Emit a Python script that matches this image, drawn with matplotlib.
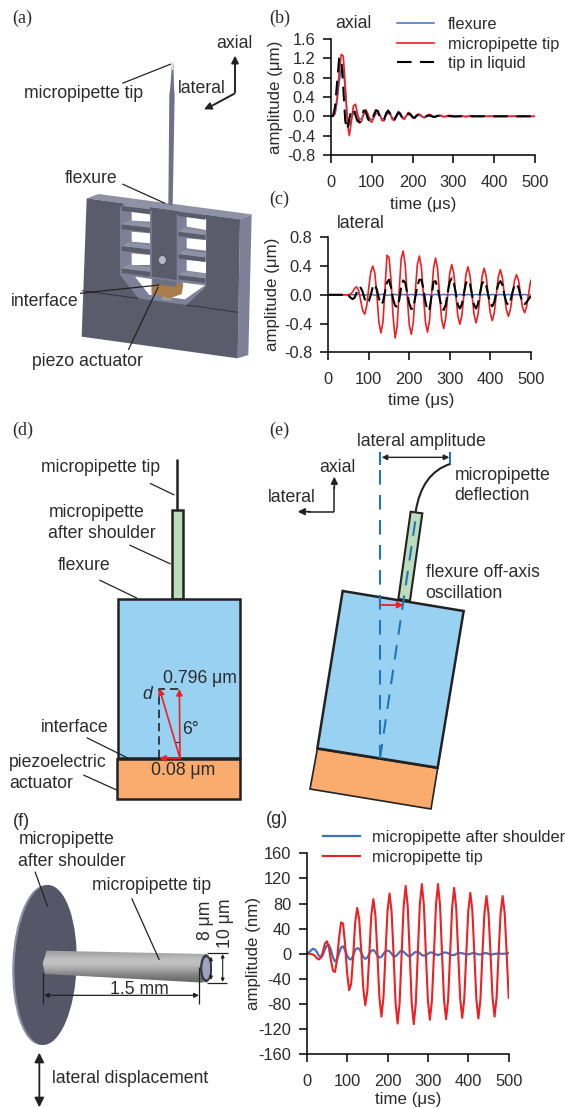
import numpy as np
import matplotlib
matplotlib.use('Agg')
import matplotlib.pyplot as plt
from matplotlib.patches import Polygon, Ellipse, FancyArrowPatch, PathPatch
from matplotlib.path import Path

plt.rcParams['font.family'] = ['Liberation Sans', 'DejaVu Sans']

W, H = 565, 1108
TXT = '#2b2b2b'
BLUE = '#3f72b8'
RED = '#ed2024'

# ---- chart data
time_b = np.arange(0, 505, 5)
flexure_b = [0, 0, .05, .3, .7, .98, .98, .55, -.02, -.18, -.06, .08, .1, .03, -.06, -.05, .03,
             .08, .04, -.04, -.07, -.02, .05, .07, .02, -.05, -.05, .02, .06, .04, -.03, -.05, 0,
             .05, .03, -.02, -.03, .01, .04, .02, -.01, -.02, .01, .02, .01, -.01, -.01, 0, .01,
             .01, 0, -.01, 0, .01, 0, 0] + [0] * 45
tip_b = [0, 0, .08, .4, .9, 1.28, 1.25, .65, -.15, -.4, -.1, .22, .25, .05, -.14, -.1, .07,
         .14, .06, -.09, -.12, -.02, .1, .12, .02, -.09, -.09, .04, .12, .07, -.06, -.09, 0,
         .1, .06, -.04, -.06, .02, .08, .05, -.03, -.04, .01, .05, .03, -.02, -.03, .01, .04,
         .03, -.01, -.02, .01, .02, .02, -.01, -.01, .01, .02, .01, 0, -.01, 0, .01, .01, 0,
         -.01, 0, .01, .01, 0, 0, .01, 0, 0, .01, 0, 0, .01, 0, 0, 0, .01, 0, 0, 0, .01, 0,
         0, 0, .01, 0, 0, 0, 0, .01, 0, 0, 0, 0, 0]
liquid_b = [0, .01, .2, .7, 1.2, 1.22, .6, -.1, -.28, -.05, .14, .16, .02, -.1, -.12, 0, .12,
            .1, -.04, -.12, -.1, .03, .13, .1, -.03, -.1, -.07, .06, .12, .05, -.07, -.08, .01,
            .08, .05, -.04, -.05, .02, .06, .04, -.02, -.03, .02, .04, .02, -.02, -.02, .01,
            .02, .01, -.01, -.01, .01, .01, .01, 0, -.01, 0, .01, 0] + [0] * 41

time_c = np.arange(0, 505, 5)
flexure_c = [0, 0, 0, 0, 0, 0, 0, 0, 0, 0, 0, 0, 0, 0, .005, .005, 0, -.005, -.005, 0, .005, .005,
             0, -.005, -.005, 0, .005, .005, 0, -.005, -.005, 0, .005, .005, 0, -.005, 0, .005, 0,
             -.005, 0, .005, 0, -.005, 0, .005, 0, -.005, 0, .005, 0, -.005, 0, .005, 0, -.005, 0,
             .005, 0, -.005, 0, .005, 0, -.005, 0, .005, 0, -.005, 0, .005, 0, -.005, 0, .005, 0,
             -.005, 0, .005, 0, -.005, 0, .005, 0, -.005, 0, .005, 0, -.005, 0, .005, 0, -.005, 0,
             .005, 0, -.005, 0, .005, 0, -.005, 0]
tip_c = [0, 0, 0, 0, 0, 0, 0, 0, 0, 0, 0, .01, .04, .09, .11, .06, -.08, -.22, -.27, -.15, .1,
         .32, .4, .3, 0, -.38, -.53, -.38, .08, .55, .52, .2, -.3, -.6, -.45, .05, .5, .61, .42,
         -.02, -.42, -.55, -.38, .05, .42, .54, .38, 0, -.38, -.52, -.36, 0, .37, .51, .36, 0,
         -.34, -.47, -.33, 0, .3, .42, .3, 0, -.29, -.41, -.29, 0, .28, .39, .27, 0, -.27, -.39,
         -.27, 0, .26, .37, .26, 0, -.25, -.36, -.25, 0, .25, .35, .24, 0, -.21, -.3, -.2, 0,
         .2, .28, .2, 0, -.18, -.25, -.16, .02, .2]
liquid_c = [0, 0, 0, 0, 0, 0, 0, 0, 0, 0, -.01, -.04, -.06, -.04, .03, .09, .1, .04, -.06, -.11,
            -.09, 0, .11, .14, .07, -.05, -.13, -.1, .04, .17, .21, .1, -.06, -.15, -.17, -.08,
            .1, .2, .17, .02, -.12, -.2, -.18, -.03, .12, .21, .21, .08, -.1, -.22, -.2, -.02,
            .18, .19, .1, -.05, -.17, -.21, -.14, .03, .18, .23, .17, .02, -.14, -.19, -.13, .02,
            .16, .2, .15, 0, -.14, -.19, -.12, .03, .16, .19, .13, 0, -.12, -.16, -.1, .03, .15,
            .19, .14, 0, -.11, -.14, -.08, .04, .13, .15, .1, -.02, -.1, -.13, -.1, -.06, -.02]

time_g = np.arange(0, 505, 5)
shoulder_g = [0, 2, 5, 8, 7, 3, -3, -6, -2, 7, 13, 14, 6, -6, -12, -9, 1, 10, 12, 6, -3, -8, -9, -3,
              6, 9, 8, 2, -5, -8, -6, 0, 5, 6, 3, -3, -6, -5, 0, 4, 5, 4, 0, -4, -4, -1, 3, 5, 3, 0,
              -3, -4, -2, 1, 3, 3, 1, -2, -3, -2, 0, 2, 2, 1, -1, -2, -1, 1, 2, 2, 1, -1, -2, -2, 0,
              1, 1, 1, 0, -1, -1, 0, 1, 1, 0, -1, -1, 0, 1, 1, 0, -1, -1, 0, 0, 1, 0, 0, 0, 1, 1]
tip_g = [0, 0, 0, -1, -3, -7, -9, -6, 3, 16, 20, 10, -10, -27, -29, -10, 25, 50, 48, 15, -30, -58, -48,
         -5, 50, 73, 55, 5, -55, -82, -60, 0, 62, 87, 62, 0, -70, -100, -70, 0, 68, 96, 68, 0, -78, -111,
         -78, 0, 76, 108, 76, 0, -79, -112, -79, 0, 78, 111, 78, 0, -74, -105, -74, 0, 78, 111, 78, 0, -74,
         -104, -74, 0, 74, 105, 74, 0, -72, -102, -72, 0, 69, 97, 69, 0, -73, -103, -73, 0, 65, 92, 65, 0,
         -70, -100, -70, 0, 65, 92, 65, 0, -70]

fig = plt.figure(figsize=(W / 100, H / 100), dpi=100)

# overlay in pixel coordinates for the drawings
ax = fig.add_axes([0, 0, 1, 1])
ax.set_xlim(0, W)
ax.set_ylim(H, 0)
ax.axis('off')


def to_a(pts):
    return [(x / 3, y / 3) for x, y in pts]


def to_r(pts):
    return [(70 + x / 3, 180 + y / 3) for x, y in pts]


def to_d(pts):
    return [(x / 3, 415 + y / 3) for x, y in pts]


def to_e(pts):
    return [(265 + x / 3, 415 + y / 3) for x, y in pts]


def to_f(pts):
    return [(x / 3, 810 + y / 3) for x, y in pts]


def poly(pts, fc, ec='none', lw=0, z=2):
    p = Polygon(pts, closed=True, fc=fc, ec=ec, lw=lw, zorder=z, joinstyle='miter')
    ax.add_patch(p)
    return p


def line(pts, color='#222222', lw=0.9, ls='-', z=5):
    xs, ys = zip(*pts)
    ax.plot(xs, ys, color=color, lw=lw, ls=ls, zorder=z, solid_capstyle='butt')


def arrow(p0, p1, color='#222222', lw=1.2, style='-|>', size=9, z=6):
    ax.add_patch(FancyArrowPatch(p0, p1, arrowstyle=style, mutation_scale=size, color=color, lw=lw,
                                 shrinkA=0, shrinkB=0, zorder=z))


def label(pt, s, size=12.7, **kw):
    ax.text(pt[0], pt[1], s, fontsize=size, color=TXT, va='center', ha=kw.pop('ha', 'left'), zorder=8, **kw)


def panel(pt, s):
    ax.text(pt[0], pt[1], s, fontsize=13, color=TXT, va='center', family='Liberation Serif', zorder=8)


# ---- (a) flexure rendering
DARK = '#5a5b6b'
MID = '#7e8097'
LIGHT = '#8f91a5'
panel(to_a([(38, 55)])[0], '(a)')
poly(to_r([(510, 118), (545, 103), (535, 525), (503, 535)]), MID)
poly(to_r([(50, 55), (85, 42), (545, 103), (510, 118)]), LIGHT)
poly(to_r([(50, 55), (510, 118), (503, 535), (35, 470)]), DARK)
# opening with inner walls, then windows, beams and centre column
poly(to_r([(150, 80), (410, 115), (408, 320), (350, 375), (205, 355), (150, 285)]), MID, z=2.1)
for pts in ([(185, 90), (240, 95), (240, 125), (185, 122)], [(185, 155), (240, 160), (240, 190), (185, 185)],
            [(185, 220), (240, 225), (240, 255), (185, 255)], [(350, 110), (408, 118), (408, 150), (350, 140)],
            [(350, 175), (408, 180), (408, 212), (350, 205)], [(350, 240), (408, 245), (408, 280), (350, 272)],
            [(195, 290), (245, 297), (245, 345), (238, 345)], [(340, 308), (405, 316), (345, 358), (300, 352)]):
    poly(to_r(pts), 'white', z=2.2)
poly(to_r([(245, 85), (320, 95), (320, 300), (245, 290)]), DARK, z=3)
for yb in (78, 133, 198, 265):
    poly(to_r([(155, yb), (240, yb + 10), (240, yb + 25), (155, yb + 14)]), DARK, z=2.5)
    poly(to_r([(155, yb), (175, yb - 12), (240, yb - 3), (240, yb + 10)]), LIGHT, z=2.5)
for yb in (95, 155, 222, 285):
    poly(to_r([(325, yb), (405, yb + 10), (405, yb + 24), (325, yb + 13)]), DARK, z=2.5)
    poly(to_r([(325, yb), (345, yb - 12), (408, yb - 3), (405, yb + 10)]), LIGHT, z=2.5)
ax.add_patch(Ellipse(to_r([(277, 240)])[0], 8, 9, fc='#b5b7c4', ec='#3a3a44', lw=0.4, zorder=3.2))
poly(to_r([(248, 295), (320, 305), (318, 320), (248, 312)]), '#6d7080', z=3.3)
poly(to_r([(245, 320), (265, 310), (340, 312), (335, 342), (300, 355), (245, 340)]), '#a87d4a', z=3.2)
poly(to_r([(275, 350), (305, 352), (305, 362), (275, 360)]), '#9a9a9a', z=3.1)
poly(to_a([(516, 190), (520, 190), (522, 260), (524, 285), (518, 617), (505, 615), (508, 285), (511, 260)]), '#6d7189', z=3.5)
poly(to_a([(515, 185), (520, 185), (520, 210), (515, 210)]), '#dfe0e6', z=3.6)
line(to_r([(35, 332), (205, 355)]), color='#33343c', lw=0.7, z=2.3)
line(to_r([(350, 375), (505, 397)]), color='#33343c', lw=0.7, z=2.3)
line(to_a([(367, 250), (513, 192)]))
line(to_a([(367, 552), (495, 610)]))
line(to_a([(240, 880), (478, 855)]))
line(to_a([(385, 1050), (475, 860)]))
line(to_a([(705, 280), (705, 190)]), lw=1.4)
arrow(to_a([(705, 200)])[0], to_a([(705, 167)])[0], size=11)
line(to_a([(705, 280), (640, 315)]), lw=1.4)
arrow(to_a([(640, 315)])[0], to_a([(612, 328)])[0], size=11)
label(to_a([(650, 131)])[0], 'axial')
label(to_a([(533, 265)])[0], 'lateral')
label(to_a([(73, 281)])[0], 'micropipette tip')
label(to_a([(195, 535)])[0], 'flexure')
label(to_a([(33, 905)])[0], 'interface')
label(to_a([(95, 1085)])[0], 'piezo actuator')

# ---- (d) side view
panel(to_d([(38, 45)])[0], '(d)')
EDGE = '#222222'
line(to_d([(531, 133), (531, 285)]), lw=1.8)
poly(to_d([(515, 285), (548, 285), (548, 551), (515, 551)]), '#bcdcbc', EDGE, 1.8)
poly(to_d([(354, 552), (720, 552), (720, 1030), (354, 1030)]), '#99d1f3', EDGE, 1.8)
poly(to_d([(352, 1032), (720, 1032), (720, 1152), (352, 1152)]), '#f9ac6e', EDGE, 1.8)
for seg in ([(450, 205), (523, 240)], [(388, 390), (512, 447)], [(298, 495), (412, 550)],
            [(260, 968), (385, 1030)], [(250, 1080), (350, 1125)]):
    line(to_d(seg))
line(to_d([(478, 1030), (478, 822), (538, 822)]), lw=1.2, ls=(0, (5, 3)))
line(to_d([(525, 982), (540, 982)]), lw=0.8)
o = to_d([(540, 1030)])[0]
arrow(o, to_d([(478, 820)])[0], color=RED)
arrow(o, to_d([(538, 822)])[0], color=RED)
arrow(o, to_d([(478, 1030)])[0], color=RED)
label(to_d([(122, 156)])[0], 'micropipette tip')
label(to_d([(145, 293)])[0], 'micropipette')
label(to_d([(145, 356)])[0], 'after shoulder')
label(to_d([(172, 453)])[0], 'flexure')
label(to_d([(490, 790)])[0], '0.796 μm')
label(to_d([(428, 838)])[0], 'd', style='italic')
label(to_d([(545, 942)])[0], '6°')
label(to_d([(122, 937)])[0], 'interface')
label(to_d([(28, 1043)])[0], 'piezoelectric')
label(to_d([(28, 1107)])[0], 'actuator')
label(to_d([(452, 1067)])[0], '0.08 μm')

# ---- (e) tilted view
panel(to_e([(12, 45)])[0], '(e)')
poly(to_e([(437, 290), (472, 295), (435, 557), (400, 552)]), '#bcdcbc', EDGE, 1.5)
poly(to_e([(233, 528), (596, 588), (518, 1058), (157, 1000)]), '#99d1f3', EDGE, 1.8)
poly(to_e([(157, 1002), (518, 1060), (498, 1182), (135, 1122)]), '#f9ac6e', EDGE, 1.2, z=1.9)
DASH = '#1f77b8'
line(to_e([(345, 112), (345, 150)]), color=DASH, lw=1.5)
line(to_e([(345, 165), (345, 1030)]), color=DASH, lw=1.5, ls=(0, (7, 5)))
line(to_e([(555, 110), (555, 150)]), color=DASH, lw=1.5)
bend = to_e([(345, 1030), (415, 560), (455, 290)])
ax.add_patch(PathPatch(Path(bend, [Path.MOVETO, Path.CURVE3, Path.CURVE3]), fc='none', ec=DASH, lw=1.5,
                       ls=(0, (7, 5)), zorder=5))
tipc = to_e([(452, 290), (470, 175), (555, 147)])
ax.add_patch(PathPatch(Path(tipc, [Path.MOVETO, Path.CURVE3, Path.CURVE3]), fc='none', ec=EDGE, lw=1.5, zorder=5))
p0, p1 = to_e([(350, 127), (553, 127)])
arrow(p0, p1, style='<|-|>', lw=1.0, size=8)
p0, p1 = to_e([(345, 570), (416, 570)])
arrow(p0, p1, color=RED, lw=1.3)
line(to_e([(208, 290), (208, 215)]), lw=1.1)
arrow(to_e([(208, 220)])[0], to_e([(208, 185)])[0], size=10)
line(to_e([(208, 290), (130, 290)]), lw=1.1)
arrow(to_e([(135, 290)])[0], to_e([(98, 290)])[0], size=10)
label(to_e([(275, 79)])[0], 'lateral amplitude')
label(to_e([(568, 181)])[0], 'micropipette')
label(to_e([(568, 243)])[0], 'deflection')
label(to_e([(163, 156)])[0], 'axial')
label(to_e([(8, 247)])[0], 'lateral')
label(to_e([(482, 472)])[0], 'flexure off-axis')
label(to_e([(482, 537)])[0], 'oscillation')

# ---- (f) micropipette rendering
label(to_f([(38, 35)])[0], '(f)', size=13)
ax.add_patch(Ellipse(to_f([(130, 465)])[0], 62, 160, angle=2, fc='#8b8ea3', ec='none', zorder=2))
ax.add_patch(Ellipse(to_f([(137, 465)])[0], 62, 160, angle=2, fc='#555668', ec='none', zorder=2.1))
tube = Polygon(to_f([(140, 422), (620, 432), (610, 518), (135, 492), (128, 460)]), closed=True, fc='none', ec='none')
ax.add_patch(tube)
grad = np.array([.62, .66, .72, .76, .74, .68, .6, .52, .46, .42]).reshape(-1, 1)
im = ax.imshow(grad, extent=(0, W, 810 + 520 / 3, 810 + 420 / 3), cmap='gray', vmin=0, vmax=1, aspect='auto',
               zorder=3, interpolation='bilinear')
im.set_clip_path(tube)
ax.set_xlim(0, W)
ax.set_ylim(H, 0)
ax.add_patch(Ellipse(to_f([(618, 475)])[0], 12, 28, fc='#3c3c48', ec='none', zorder=3.2))
ax.add_patch(Ellipse(to_f([(619, 475)])[0], 8, 22, fc='#9ea2c0', ec='none', zorder=3.3))
line(to_f([(620, 430), (683, 430)]))
line(to_f([(620, 518), (680, 518)]))
p0, p1 = to_f([(668, 432), (668, 516)])
arrow(p0, p1, style='<|-|>', lw=0.8, size=5)
p0, p1 = to_f([(633, 440), (633, 510)])
arrow(p0, p1, style='<|-|>', lw=0.8, size=5)
p0, p1 = to_f([(132, 556), (597, 556)])
arrow(p0, p1, style='<|-|>', lw=0.9, size=7)
line(to_f([(128, 490), (128, 582)]))
line(to_f([(597, 470), (597, 582)]))
p0, p1 = to_f([(118, 728), (118, 892)])
arrow(p0, p1, style='<|-|>', lw=1.3, size=14)
line(to_f([(105, 185), (143, 290)]))
line(to_f([(395, 265), (478, 450)]))
label(to_f([(55, 90)])[0], 'micropipette')
label(to_f([(55, 154)])[0], 'after shoulder')
label(to_f([(277, 225)])[0], 'micropipette tip')
label(to_f([(418, 537)])[0], '1.5 mm', ha='center')
label(to_f([(617, 330)])[0], '8 μm', ha='center', rotation=90)
label(to_f([(676, 340)])[0], '10 μm', ha='center', rotation=90)
label(to_f([(155, 805)])[0], 'lateral displacement')
label((266, 820), '(g)', size=13)


# ---- charts
def chart(left, right, top, bottom, xlim, ylim, yticks, yfmt, label_right, xlab_x, xlab_top):
    a = fig.add_axes([left / W, 1 - bottom / H, (right - left) / W, (bottom - top) / H])
    a.patch.set_alpha(0)
    a.set_xlim(*xlim)
    a.set_ylim(*ylim)
    a.set_xticks(np.arange(0, 600, 100))
    a.set_yticks(yticks)
    a.set_yticklabels([yfmt % v for v in yticks])
    for s in ('top', 'right'):
        a.spines[s].set_visible(False)
    for s in ('left', 'bottom'):
        a.spines[s].set_linewidth(1.1)
    a.tick_params(length=5.8, width=1.1, labelsize=11.8, labelcolor=TXT)
    a.tick_params(axis='x', pad=8.5)
    a.tick_params(axis='y', pad=5.5)
    a.set_xlabel('time (μs)', fontsize=12.2, color=TXT)
    a.xaxis.set_label_coords((xlab_x - left) / (right - left), -(xlab_top - bottom) / (bottom - top))
    a.yaxis.set_label_coords((label_right - left) / (right - left), 0.5)
    return a


ax_b = chart(331, 535, 39, 155, (0, 500), (-0.8, 1.6), [-.8, -.4, 0, .4, .8, 1.2, 1.6], '%.1f', 283, 423, 197)
ax_b.plot(time_b, flexure_b, color=BLUE, lw=1.1, label='flexure')
ax_b.plot(time_b, tip_b, color=RED, lw=1.2, label='micropipette tip')
ax_b.plot(time_b, liquid_b, color='black', lw=1.5, ls=(0, (7, 4)), label='tip in liquid')
ax_b.set_ylabel('amplitude (μm)', fontsize=12.2, color=TXT)
ax_b.legend(loc='upper left', bbox_to_anchor=(397 / W, 1 - 17 / H), bbox_transform=fig.transFigure, frameon=False,
            fontsize=11.8, handlelength=2.26, handletextpad=0.85, labelspacing=0.28, borderpad=0, borderaxespad=0,
            labelcolor=TXT)
ax.text(335, 24, 'axial', fontsize=12.7, color=TXT, va='center')
panel((269, 18), '(b)')

ax_c = chart(328.3, 530.7, 237.3, 352.3, (0, 500), (-0.8, 0.8), [-.8, -.4, 0, .4, .8], '%.1f', 280, 421, 393)
ax_c.plot(time_c, flexure_c, color=BLUE, lw=1.1)
ax_c.plot(time_c, tip_c, color=RED, lw=1.2)
ax_c.plot(time_c, liquid_c, color='black', lw=1.5, ls=(0, (7, 2.5)))
ax_c.set_ylabel('amplitude (μm)', fontsize=12.2, color=TXT)
ax.text(337, 223, 'lateral', fontsize=12.7, color=TXT, va='center')
panel((269, 199), '(c)')

ax_g = chart(306.7, 508.7, 853.3, 1054.3, (0, 500), (-160, 160), np.arange(-160, 200, 40), '%d', 261, 408, 1092)
ax_g.plot(time_g, shoulder_g, color=BLUE, lw=1.6, label='micropipette after shoulder')
ax_g.plot(time_g, tip_g, color=RED, lw=1.5, label='micropipette tip')
ax_g.set_ylabel('amplitude (nm)', fontsize=12.2, color=TXT)
ax_g.legend(loc='upper left', bbox_to_anchor=(323 / W, 1 - 830 / H), bbox_transform=fig.transFigure, frameon=False,
            fontsize=11.7, handlelength=2.3, handletextpad=0.7, labelspacing=0.3, borderpad=0, borderaxespad=0,
            labelcolor=TXT)

fig.savefig('out.png', dpi=100)
